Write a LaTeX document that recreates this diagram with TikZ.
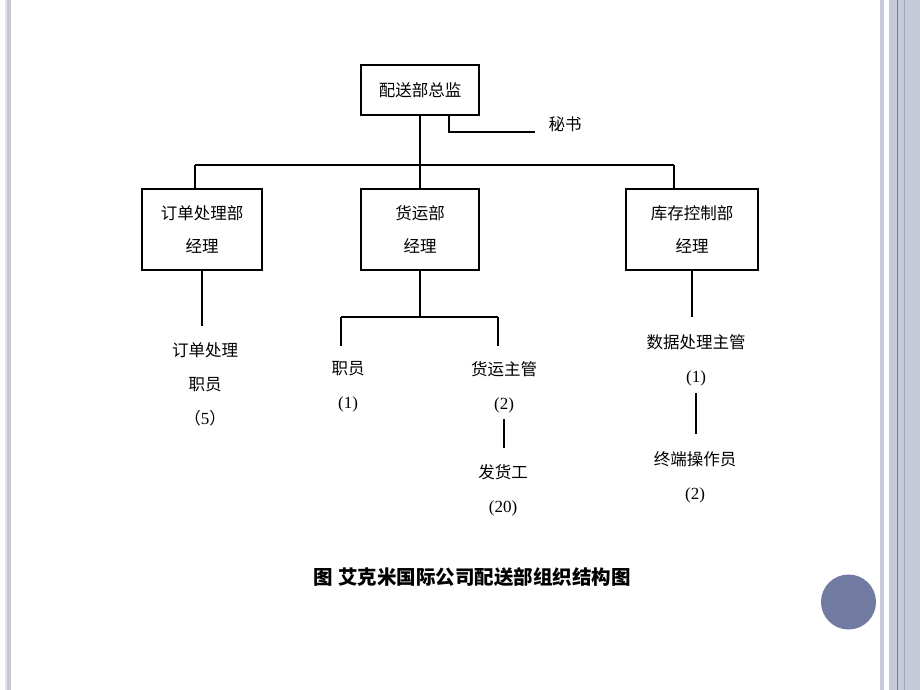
\documentclass[tikz,border=0pt]{standalone}
\usepackage{fontspec}
\setmainfont{Liberation Serif}
\newfontfamily\cjk{Noto Sans CJK SC}
\newcommand{\headcount}[1]{{\rmfamily\fontsize{17}{34}\selectfont(#1)}}
\definecolor{slideband}{HTML}{C6C9D8}
\definecolor{slidepale}{HTML}{E0E1EA}
\definecolor{slideline}{HTML}{6E7AA0}
\definecolor{slidedot}{HTML}{717AA0}
\tikzset{
  unitbox/.style={draw, line width=1.2pt, align=center, minimum height=81pt,
    font=\cjk\fontsize{16.5}{33}\selectfont},
  staff/.style={align=center, inner sep=0pt,
    font=\cjk\fontsize{16.5}{34}\selectfont},
  link/.style={line width=1.2pt}
}
\begin{document}
\begin{tikzpicture}[x=1pt, y=-1pt]
    \useasboundingbox (0,0) rectangle (920,690);
    % Slide frame
    \fill[white] (0,0) rectangle (920,690);
    \fill[slidepale] (5,0) rectangle (7,690);
    \fill[slideband] (7,0) rectangle (11,690);
    \fill[slideband] (880,0) rectangle (884,690);
    \fill[slideband] (889,0) rectangle (920,690);
    \draw[slideline, line width=1pt] (897.5,0) -- (897.5,690);
    \draw[slideline!45!slideband, line width=1.5pt] (904.5,0) -- (904.5,690);
    \fill[slidedot] (848.5,602) circle (27.5);

    % Director and secretary
    \node[unitbox, minimum width=118pt, minimum height=50pt] (director) at (420,90) {配送部总监};
    \node[staff] (secretary) at (565,124) {秘书};
    \coordinate (secEnd) at (535,132);
    \draw[link] ([xshift=29pt]director.south) |- (secEnd);

    % Department managers
    \node[unitbox, minimum width=120pt] (ordmgr) at (202,229.5) {订单处理部\\经理};
    \node[unitbox, minimum width=118pt] (shipmgr) at (420,229.5) {货运部\\经理};
    \node[unitbox, minimum width=132pt] (stockmgr) at (692,229.5) {库存控制部\\经理};

    % Top bus
    \coordinate (busA) at (195,165);
    \coordinate (busB) at (674,165);
    \draw[link] (busA) -- (busB);
    \draw[link] (director) -- (shipmgr);
    \draw[link] (busA) -- (busA |- ordmgr.north);
    \draw[link] (busB) -- (busB |- stockmgr.north);

    % Staff under order processing
    \node[staff] (ordclerk) at (205,384) {订单处理\\职员\\（{\rmfamily\fontsize{17}{34}\selectfont 5}）};
    \draw[link, shorten >=16pt] (ordmgr.south) -- (ordmgr.south |- ordclerk.north);

    % Staff under shipping
    \node[staff] (clerk) at (348,387) {职员\\\headcount{1}};
    \node[staff] (shipsup) at (504,387) {货运主管\\\headcount{2}};
    \node[staff] (shipper) at (503,490) {发货工\\\headcount{20}};
    \coordinate (busL) at (341,317);
    \coordinate (busR) at (498,317);
    \draw[link] (shipmgr.south) -- (shipmgr.south |- busL);
    \draw[link] (busL) -- (busR);
    \draw[link, shorten >=15pt] (busL) -- (busL |- clerk.north);
    \draw[link, shorten >=15pt] (busR) -- (busR |- shipsup.north);
    \draw[link, shorten <=6pt, shorten >=16pt] (shipsup.south) -- (shipsup.south |- shipper.north);

    % Staff under inventory control
    \node[staff] (datasup) at (696,360) {数据处理主管\\\headcount{1}};
    \node[staff] (termop) at (695,477) {终端操作员\\\headcount{2}};
    \draw[link, shorten >=17pt] (stockmgr.south) -- (stockmgr.south |- datasup.north);
    \draw[link, shorten <=7pt, shorten >=17pt] (datasup.south) -- (datasup.south |- termop.north);

    % Caption
    \node[font=\cjk\bfseries\fontsize{19.5}{24}\selectfont] (caption) at (472,577) {图\hspace{0.3em}艾克米国际公司配送部组织结构图};
\end{tikzpicture}
\end{document}
